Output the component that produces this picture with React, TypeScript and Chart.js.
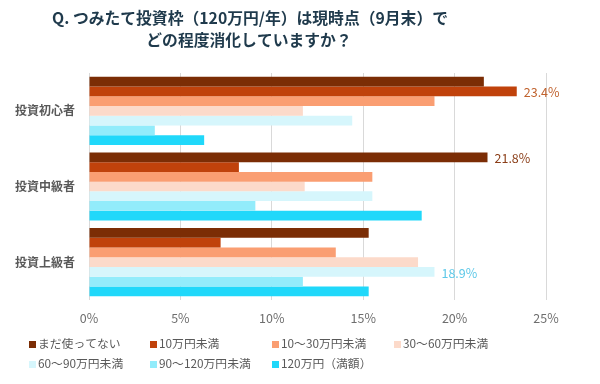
import React, { useEffect, useRef } from "react";
import { Chart, registerables } from "chart.js";

Chart.register(...registerables);

const titleLines = ["Q. つみたて投資枠（120万円/年）は現時点（9月末）で", "どの程度消化していますか？"];
const categories = ["投資初心者", "投資中級者", "投資上級者"];
const seriesNames = ["まだ使ってない", "10万円未満", "10～30万円未満", "30～60万円未満", "60～90万円未満", "90～120万円未満", "120万円（満額）"];
const seriesColors = ["#7B2D05", "#C0420B", "#FA9E72", "#FCDACA", "#D6F6FC", "#92ECFB", "#20D8FA"];
const labelColors = ["#8B3E18", "#C0632F", "#E07B4A", "#E0A080", "#5CC8E8", "#40C0E0", "#10B0E0"];
const notUsed = [21.6, 21.8, 15.3];
const under10 = [23.4, 8.2, 7.2];
const from10to30 = [18.9, 15.5, 13.5];
const from30to60 = [11.7, 11.8, 18.0];
const from60to90 = [14.4, 15.5, 18.9];
const from90to120 = [3.6, 9.1, 11.7];
const full120 = [6.3, 18.2, 15.3];
const seriesValues = [notUsed, under10, from10to30, from30to60, from60to90, from90to120, full120];
const xTicks = [0, 5, 10, 15, 20, 25];

const FONT = "'Noto Sans CJK JP', 'Noto Sans', sans-serif";

const overlayPlugin = {
  id: "overlay",
  afterDatasetsDraw(chart: any) {
    const ctx = chart.ctx;
    ctx.save();
    // max-value labels per category
    categories.forEach((_, ci) => {
      let best = 0;
      seriesValues.forEach((vals, si) => {
        if (vals[ci] > seriesValues[best][ci]) best = si;
      });
      const el = chart.getDatasetMeta(best).data[ci];
      ctx.font = `12.5px ${FONT}`;
      ctx.fillStyle = labelColors[best];
      ctx.textAlign = "left";
      ctx.textBaseline = "middle";
      ctx.fillText(seriesValues[best][ci].toFixed(1) + "%", el.x + 7, el.y + 1);
    });
    // title
    ctx.font = `bold 15.8px ${FONT}`;
    ctx.fillStyle = "#1F3A4C";
    ctx.textAlign = "center";
    ctx.textBaseline = "middle";
    ctx.fillText(titleLines[0], 250, 18);
    ctx.fillText(titleLines[1], 249, 40);
    // legend in grid
    const colX = [29, 150, 272, 394];
    const rowY = [344, 364];
    seriesNames.forEach((name, i) => {
      const c = i % 4;
      const r = Math.floor(i / 4);
      const x = colX[c];
      const y = rowY[r];
      ctx.fillStyle = seriesColors[i];
      ctx.fillRect(x, y - 3, 7, 7);
      ctx.font = `11.8px ${FONT}`;
      ctx.fillStyle = "#595959";
      ctx.textAlign = "left";
      ctx.textBaseline = "middle";
      ctx.fillText(name, x + 9, y);
    });
    ctx.restore();
  },
};

export default function App() {
  const ref = useRef<HTMLCanvasElement | null>(null);
  useEffect(() => {
    document.body.style.margin = "0";
    const chart = new Chart(ref.current as HTMLCanvasElement, {
      type: "bar",
      data: {
        labels: categories,
        datasets: seriesNames.map((name, i) => ({
          label: name,
          data: seriesValues[i],
          backgroundColor: seriesColors[i],
          borderWidth: 0,
          categoryPercentage: 0.9,
          barPercentage: 1.0,
        })),
      },
      options: {
        indexAxis: "y",
        animation: false,
        responsive: false,
        maintainAspectRatio: false,
        layout: { padding: { left: 0, right: 54, top: 73, bottom: 54 } },
        plugins: {
          legend: { display: false },
          title: { display: false },
          tooltip: { enabled: false },
        },
        scales: {
          x: {
            min: 0,
            max: 25,
            afterBuildTicks: (axis: any) => {
              axis.ticks = xTicks.map((v) => ({ value: v }));
            },
            afterFit: (axis: any) => {
              axis.height = 30;
            },
            grid: { color: "#D9D9D9", drawTicks: false },
            border: { display: false },
            ticks: {
              padding: 11,
              color: "#6E6E6E",
              font: { family: FONT, size: 12.5 },
              callback: (v: any) => v + "%",
            },
          },
          y: {
            afterFit: (axis: any) => {
              axis.width = 89;
            },
            grid: { display: false, drawTicks: false },
            border: { display: false },
            ticks: {
              padding: 14,
              color: "#595959",
              font: { family: FONT, size: 12, weight: "bold" },
            },
          },
        },
      },
      plugins: [overlayPlugin],
    } as any);
    return () => chart.destroy();
  }, []);
  return (
    <div style={{ width: 600, height: 384, background: "#fff" }}>
      <canvas ref={ref} width={600} height={384} style={{ width: 600, height: 384, display: "block" }} />
    </div>
  );
}
